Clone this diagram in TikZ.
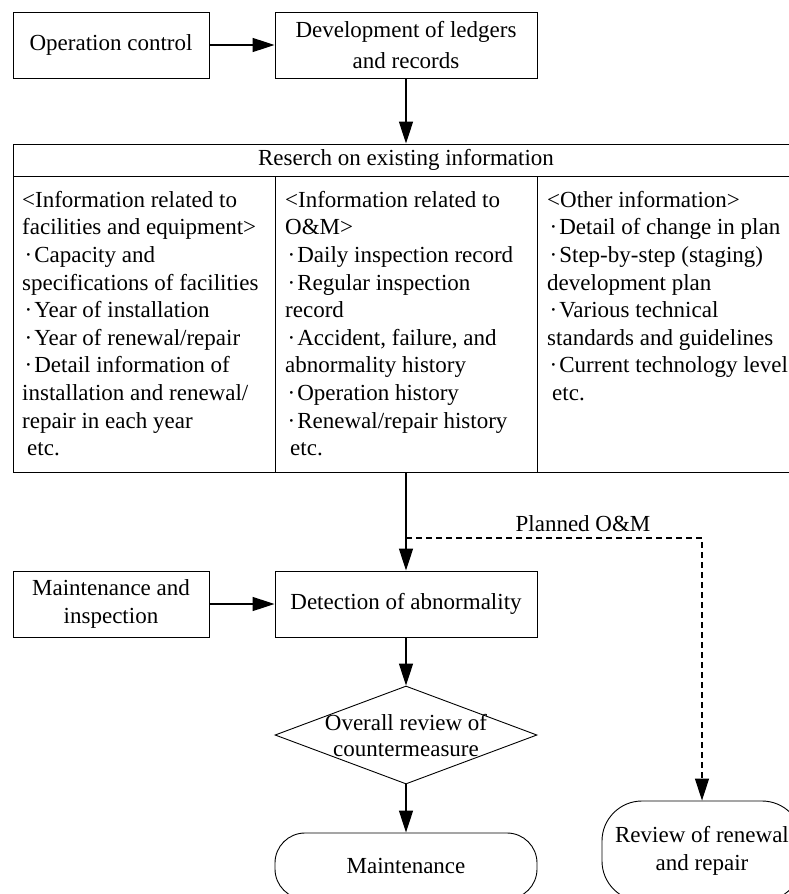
\documentclass[tikz,border=0pt]{standalone}
\usepackage{fontspec}
\setmainfont{Liberation Serif}
\usetikzlibrary{arrows.meta,shapes.geometric}
\def\itemdot{\hspace*{2.5pt}·\hspace{2pt}}
\tikzset{
	txt/.style={font=\fontsize{23}{28}\selectfont},
	blk/.style={draw, line width=0.9pt, txt, align=center, minimum height=66pt, inner sep=0pt},
	termnl/.style={blk, minimum height=66pt},
	decide/.style={draw, diamond, line width=0.9pt, minimum width=262pt, minimum height=98pt, inner sep=0pt},
	coltxt/.style={font=\fontsize{23}{27.6}\selectfont, align=left, anchor=north west, inner sep=0pt},
	flowarr/.style={-{Triangle[length=22pt,width=14pt]}, line width=1.4pt},
	planarr/.style={flowarr, line width=1.2pt, dash pattern=on 6pt off 4pt}
}

\begin{document}
\begin{tikzpicture}[x=1pt, y=-1pt]
		%%%%% START %%%%%
		\useasboundingbox (0, 0) rectangle (789, 894);
		\clip (0, 0) rectangle (789, 894);
		
		\node[blk, minimum width=196pt] (ctrl) at (111, 45) {Operation control};
		\node[blk, minimum width=262pt, font=\fontsize{23}{31}\selectfont] (ledger) at (406, 45) {Development of ledgers\\and records};
		\draw[flowarr] (ctrl.east) -- (ledger.west);
		
		\node[blk, minimum width=786pt, minimum height=328pt] (research) at (406, 308) {};
		\draw[line width=0.9pt] (13, 176) -- (799, 176);
		\draw[line width=0.9pt] (275, 176) -- (275, 472);
		\draw[line width=0.9pt] (537, 176) -- (537, 472);
		\node[txt] (head) at (406, 160) {Reserch on existing information};
		\draw[flowarr] (ledger.south) -- (research.north);
		
		\node[coltxt] (infofac) at (22, 191) {<Information related to\\facilities and equipment>\\\itemdot Capacity and\\specifications of facilities\\\itemdot Year of installation\\\itemdot Year of renewal/repair\\\itemdot Detail information of\\installation and renewal/\\repair in each year\\\hspace*{5pt}etc.};
		\node[coltxt] (infoom) at (285, 191) {<Information related to\\O\&M>\\\itemdot Daily inspection record\\\itemdot Regular inspection\\record\\\itemdot Accident, failure, and\\abnormality history\\\itemdot Operation history\\\itemdot Renewal/repair history\\\hspace*{5pt}etc.};
		\node[coltxt] (infoother) at (547, 191) {<Other information>\\\itemdot Detail of change in plan\\\itemdot Step-by-step (staging)\\development plan\\\itemdot Various technical\\standards and guidelines\\\itemdot Current technology level\\\hspace*{5pt}etc.};
		
		\node[blk, minimum width=196pt] (inspect) at (111, 604) {Maintenance and\\inspection};
		\node[blk, minimum width=262pt] (detect) at (406, 604) {Detection of abnormality};
		\draw[flowarr] (research.south) -- (detect.north);
		\draw[flowarr] (inspect.east) -- (detect.west);
		
		\coordinate (split) at (406, 538);
		\node[termnl, minimum width=200pt, minimum height=100pt, rounded corners=40pt] (renew) at (702, 851) {Review of renewal\\and repair};
		\draw[planarr] (split) -| (renew.north);
		\node[txt] (plan) at (583, 524) {Planned O\&M};
		
		\node[decide] (review) at (406, 735) {};
		\node[txt, align=center, font=\fontsize{23}{26}\selectfont] (reviewtxt) at (406, 736) {Overall review of\\countermeasure};
		\draw[flowarr] (detect.south) -- (review.north);
		
		\node[termnl, minimum width=262pt, rounded corners=30pt] (maintain) at (406, 866) {Maintenance};
		\draw[flowarr] (review.south) -- (maintain.north);
		%%%%% END %%%%%
	\end{tikzpicture}
\end{document}
